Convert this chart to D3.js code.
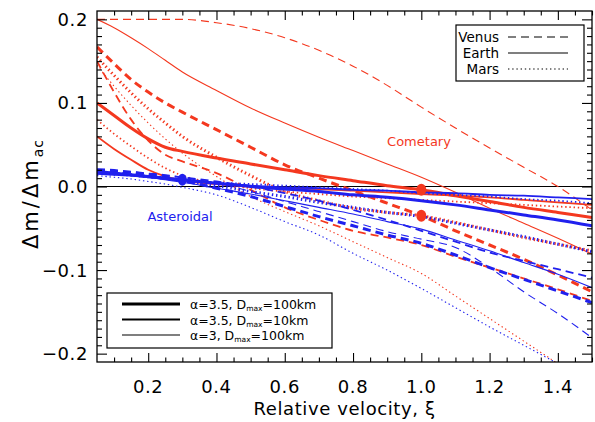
<!DOCTYPE html>
<html>
<head>
<meta charset="utf-8">
<script src="https://cdn.jsdelivr.net/npm/d3@7"></script>
<style>
  html, body { margin: 0; padding: 0; background: #fff; }
  svg { display: block; font-family: "DejaVu Sans", sans-serif; }
</style>
</head>
<body>
<svg id="chart" width="595" height="422"></svg>
<script>
// Relative velocity grid shared by every curve
const xi = [0.05, 0.1, 0.15, 0.2, 0.25, 0.3, 0.4, 0.5, 0.6, 0.7, 0.8, 0.9, 1.0, 1.1, 1.2, 1.3, 1.4, 1.5];

// Cometary impactors (Δm/Δm_ac)
const cometVenusThick = [0.167, 0.147, 0.128, 0.113, 0.1, 0.089, 0.068, 0.047, 0.026, 0.01, -0.005, -0.02, -0.035, -0.053, -0.07, -0.087, -0.106, -0.126];
const cometVenusMed   = [0.15, 0.113, 0.08, 0.055, 0.038, 0.03, 0.016, -0.004, -0.025, -0.04, -0.053, -0.061, -0.07, -0.084, -0.097, -0.11, -0.123, -0.137];
const cometVenusThin  = [0.2, 0.2, 0.2, 0.2, 0.2, 0.2, 0.196, 0.189, 0.178, 0.163, 0.144, 0.121, 0.095, 0.07, 0.046, 0.023, 0.0, -0.028];
const cometEarthThick = [0.1, 0.085, 0.07, 0.057, 0.047, 0.042, 0.034, 0.027, 0.02, 0.013, 0.007, 0.001, -0.004, -0.011, -0.018, -0.025, -0.031, -0.037];
const cometEarthMed   = [0.06, 0.045, 0.032, 0.02, 0.012, 0.007, 0.003, 0.0, -0.002, -0.003, -0.005, -0.007, -0.009, -0.011, -0.013, -0.016, -0.019, -0.022];
const cometEarthThin  = [0.2, 0.19, 0.178, 0.165, 0.151, 0.137, 0.115, 0.094, 0.076, 0.059, 0.043, 0.027, 0.011, -0.007, -0.026, -0.044, -0.062, -0.081];
const cometMarsThick  = [0.155, 0.133, 0.112, 0.093, 0.076, 0.06, 0.035, 0.013, -0.006, -0.017, -0.026, -0.031, -0.035, -0.043, -0.052, -0.061, -0.069, -0.077];
const cometMarsMed    = [0.08, 0.063, 0.048, 0.034, 0.022, 0.013, 0.004, -0.002, -0.006, -0.009, -0.012, -0.014, -0.016, -0.018, -0.02, -0.022, -0.024, -0.026];
const cometMarsThin   = [0.145, 0.12, 0.097, 0.076, 0.057, 0.04, 0.012, -0.012, -0.03, -0.047, -0.066, -0.085, -0.104, -0.131, -0.158, -0.185, -0.212, -0.24];

// Asteroidal impactors
const asterVenusThick = [0.02, 0.019, 0.017, 0.014, 0.011, 0.007, -0.002, -0.012, -0.024, -0.036, -0.047, -0.058, -0.068, -0.082, -0.097, -0.111, -0.125, -0.139];
const asterVenusMed   = [0.019, 0.018, 0.017, 0.015, 0.013, 0.011, 0.006, 0.0, -0.008, -0.017, -0.028, -0.04, -0.053, -0.066, -0.079, -0.089, -0.099, -0.109];
const asterVenusThin  = [0.02, 0.019, 0.018, 0.016, 0.014, 0.011, 0.004, -0.006, -0.018, -0.03, -0.042, -0.054, -0.063, -0.073, -0.097, -0.126, -0.152, -0.181];
const asterEarthThick = [0.018, 0.016, 0.014, 0.012, 0.01, 0.008, 0.004, 0.0, -0.003, -0.006, -0.01, -0.013, -0.017, -0.022, -0.028, -0.034, -0.04, -0.047];
const asterEarthMed   = [0.015, 0.014, 0.013, 0.011, 0.009, 0.007, 0.004, 0.001, -0.001, -0.002, -0.004, -0.005, -0.007, -0.008, -0.01, -0.011, -0.013, -0.015];
const asterEarthThin  = [0.016, 0.015, 0.013, 0.011, 0.008, 0.005, -0.002, -0.009, -0.017, -0.025, -0.033, -0.042, -0.051, -0.064, -0.077, -0.091, -0.105, -0.121];
const asterMarsThick  = [0.017, 0.016, 0.014, 0.012, 0.01, 0.007, 0.001, -0.006, -0.012, -0.019, -0.025, -0.031, -0.036, -0.044, -0.052, -0.06, -0.069, -0.078];
const asterMarsMed    = [0.015, 0.014, 0.013, 0.011, 0.01, 0.008, 0.005, 0.003, 0.001, -0.001, -0.003, -0.005, -0.008, -0.01, -0.012, -0.015, -0.017, -0.02];
const asterMarsThin   = [0.013, 0.011, 0.009, 0.006, 0.003, -0.001, -0.01, -0.025, -0.042, -0.058, -0.08, -0.1, -0.122, -0.145, -0.168, -0.19, -0.212, -0.235];

// Present-day planet positions
const markerXi  = [0.3, 1.0, 1.0];
const markerVal = [0.008, -0.004, -0.035];
const markerPop = ["aster", "comet", "comet"];

// Axis ticks
const xTickLabels = [0.2, 0.4, 0.6, 0.8, 1.0, 1.2, 1.4];
const yTickLabels = [-0.2, -0.1, 0.0, 0.1, 0.2];

// Legend entries
const planetNames = ["Venus", "Earth", "Mars"];
const modelAlpha  = ["3.5", "3.5", "3"];
const modelDmax   = ["100km", "10km", "100km"];

// ---- styling ----
const RED = "#f4381f", BLUE = "#2020ee";
const popColor = { comet: RED, aster: BLUE };
const planetDash = { Venus: "8,5", Earth: null, Mars: "1.4,2.8" };
const modelWidth = { thick: 3.0, med: 1.8, thin: 1.1 };

const curves = [
  ["comet", "Venus", "thick", cometVenusThick], ["comet", "Venus", "med", cometVenusMed], ["comet", "Venus", "thin", cometVenusThin],
  ["comet", "Earth", "thick", cometEarthThick], ["comet", "Earth", "med", cometEarthMed], ["comet", "Earth", "thin", cometEarthThin],
  ["comet", "Mars", "thick", cometMarsThick], ["comet", "Mars", "med", cometMarsMed], ["comet", "Mars", "thin", cometMarsThin],
  ["aster", "Venus", "thick", asterVenusThick], ["aster", "Venus", "med", asterVenusMed], ["aster", "Venus", "thin", asterVenusThin],
  ["aster", "Earth", "thick", asterEarthThick], ["aster", "Earth", "med", asterEarthMed], ["aster", "Earth", "thin", asterEarthThin],
  ["aster", "Mars", "thick", asterMarsThick], ["aster", "Mars", "med", asterMarsMed], ["aster", "Mars", "thin", asterMarsThin]
].map(([pop, planet, model, vals]) => ({ pop, planet, model, pts: xi.map((x, i) => [x, vals[i]]) }));

const svg = d3.select("#chart");
const L = 97, R = 592, T = 11, B = 362;
const x = d3.scaleLinear().domain([0.05, 1.5]).range([L, R]);
const y = d3.scaleLinear().domain([-0.21, 0.21]).range([B, T]);

svg.append("defs").append("clipPath").attr("id", "plotClip")
  .append("rect").attr("x", L).attr("y", T).attr("width", R - L).attr("height", B - T);

// zero line
svg.append("line").attr("x1", L).attr("x2", R).attr("y1", y(0)).attr("y2", y(0))
  .attr("stroke", "#000").attr("stroke-width", 1.2);

// curves
const line = d3.line().x(d => x(d[0])).y(d => y(d[1])).curve(d3.curveMonotoneX);
const gCurves = svg.append("g").attr("clip-path", "url(#plotClip)");
gCurves.selectAll("path").data(curves).join("path")
  .attr("d", d => line(d.pts))
  .attr("fill", "none")
  .attr("stroke", d => popColor[d.pop])
  .attr("stroke-width", d => modelWidth[d.model])
  .attr("stroke-dasharray", d => planetDash[d.planet]);

// markers
gCurves.selectAll("ellipse").data(markerXi.map((m, i) => ({ xi: m, v: markerVal[i], pop: markerPop[i] })))
  .join("ellipse")
  .attr("cx", d => x(d.xi)).attr("cy", d => y(d.v))
  .attr("rx", d => d.pop === "aster" ? 4.5 : 5).attr("ry", d => d.pop === "aster" ? 6 : 6)
  .attr("fill", d => popColor[d.pop]);

// axes: ticks point inward, mirrored on top/right
const xMinor = d3.range(0.1, 1.5001, 0.05).map(v => +v.toFixed(2));
const yMinor = d3.range(-0.2, 0.2001, 0.01).map(v => +v.toFixed(2));
const isMajX = v => Math.abs(v * 5 - Math.round(v * 5)) < 1e-6;
const isMajY = v => Math.abs(v * 10 - Math.round(v * 10)) < 1e-6;

const axisStyle = g => {
  g.select(".domain").remove();
  g.selectAll("line").attr("stroke", "#000").attr("stroke-width", 1.1);
  g.selectAll("text").remove();
};
const axB = svg.append("g").attr("transform", `translate(0,${B})`)
  .call(d3.axisBottom(x).tickValues(xMinor).tickSizeOuter(0));
axB.selectAll(".tick line").attr("y2", d => isMajX(d) ? -9 : -4.5);
axisStyle(axB);
const axT = svg.append("g").attr("transform", `translate(0,${T})`)
  .call(d3.axisTop(x).tickValues(xMinor).tickSizeOuter(0));
axT.selectAll(".tick line").attr("y2", d => isMajX(d) ? 9 : 4.5);
axisStyle(axT);
const axL = svg.append("g").attr("transform", `translate(${L},0)`)
  .call(d3.axisLeft(y).tickValues(yMinor).tickSizeOuter(0));
axL.selectAll(".tick line").attr("x2", d => isMajY(d) ? 10 : 5);
axisStyle(axL);
const axR = svg.append("g").attr("transform", `translate(${R},0)`)
  .call(d3.axisRight(y).tickValues(yMinor).tickSizeOuter(0));
axR.selectAll(".tick line").attr("x2", d => isMajY(d) ? -10 : -5);
axisStyle(axR);

// tick labels
svg.append("g").selectAll("text").data(xTickLabels).join("text")
  .attr("x", d => x(d)).attr("y", 393).attr("text-anchor", "middle")
  .attr("font-size", 18).attr("letter-spacing", 0.6).text(d => d.toFixed(1));
svg.append("g").selectAll("text").data(yTickLabels).join("text")
  .attr("x", 88).attr("y", d => y(d) + 6.5).attr("text-anchor", "end")
  .attr("font-size", 18).attr("letter-spacing", 0.6)
  .text(d => (d < 0 ? "\u2212" : "") + Math.abs(d).toFixed(1));

// frame
svg.append("rect").attr("x", L).attr("y", T).attr("width", R - L).attr("height", B - T)
  .attr("fill", "none").attr("stroke", "#000").attr("stroke-width", 1.3);

// axis titles
svg.append("text").attr("x", (L + R) / 2).attr("y", 415).attr("text-anchor", "middle")
  .attr("font-size", 18).attr("letter-spacing", 0.6).text("Relative velocity, \u03BE");
const yt = svg.append("text").attr("transform", "translate(38,194) rotate(-90)")
  .attr("text-anchor", "middle").attr("font-size", 21).attr("letter-spacing", 3);
yt.append("tspan").text("\u0394m/\u0394m");
yt.append("tspan").attr("font-size", 14).attr("dy", 5).attr("letter-spacing", 1).text("ac");

// population labels
svg.append("text").attr("x", 419).attr("y", 146).attr("text-anchor", "middle")
  .attr("font-size", 13).attr("fill", RED).text("Cometary");
svg.append("text").attr("x", 180).attr("y", 221).attr("text-anchor", "middle")
  .attr("font-size", 13).attr("fill", BLUE).text("Asteroidal");

// planet legend (line style)
const lg1 = svg.append("g");
lg1.append("rect").attr("x", 456).attr("y", 25).attr("width", 128).attr("height", 56)
  .attr("fill", "#fff").attr("stroke", "#000").attr("stroke-width", 1.2);
planetNames.forEach((p, i) => {
  const yy = 37 + i * 16;
  lg1.append("text").attr("x", 499).attr("y", yy + 5).attr("text-anchor", "end")
    .attr("font-size", 13.5).text(p);
  lg1.append("line").attr("x1", 508).attr("x2", 568).attr("y1", yy).attr("y2", yy)
    .attr("stroke", "#000").attr("stroke-width", 1.1).attr("stroke-dasharray", planetDash[p]);
});

// model legend (line thickness)
const lg2 = svg.append("g");
lg2.append("rect").attr("x", 107).attr("y", 293).attr("width", 225).attr("height", 55)
  .attr("fill", "#fff").attr("stroke", "#000").attr("stroke-width", 1.2);
["thick", "med", "thin"].forEach((m, i) => {
  const yy = 304 + i * 15.5;
  lg2.append("line").attr("x1", 122).attr("x2", 180).attr("y1", yy).attr("y2", yy)
    .attr("stroke", "#000").attr("stroke-width", modelWidth[m]);
  const t = lg2.append("text").attr("x", 190).attr("y", yy + 5).attr("font-size", 12.5);
  t.append("tspan").text(`\u03B1=${modelAlpha[i]},  D`);
  t.append("tspan").attr("font-size", 7.5).attr("dy", 2).text("max");
  t.append("tspan").attr("dy", -2).text(`=${modelDmax[i]}`);
});
</script>
</body>
</html>
